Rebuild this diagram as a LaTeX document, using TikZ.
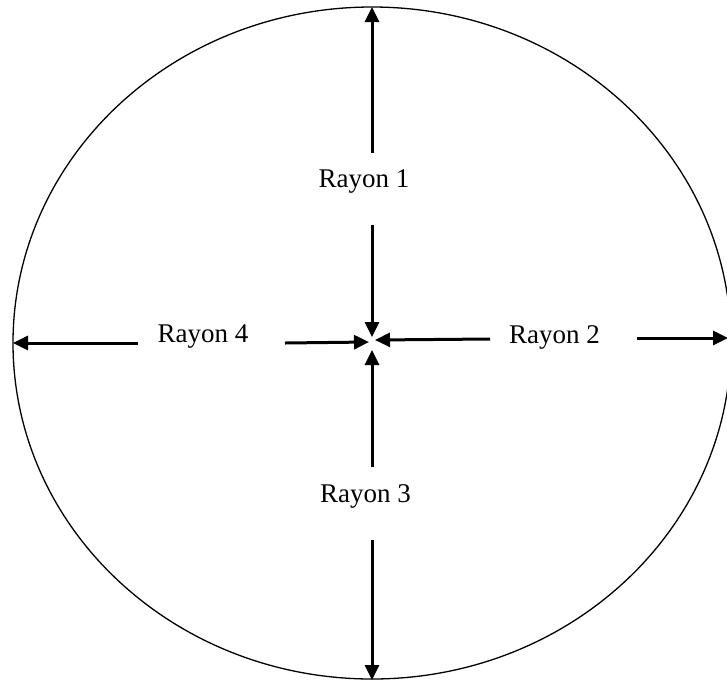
\documentclass[tikz,border=0pt]{standalone}
\usepackage{fontspec}
\setmainfont{Liberation Serif}
\usetikzlibrary{arrows.meta}
\begin{document}
\begin{tikzpicture}[x=1pt,y=-1pt,
  ray/.style={line width=3pt,-{Triangle[length=15pt,width=14pt]}},
  lbl/.style={inner sep=0pt,anchor=base,font=\fontsize{27}{30}\selectfont}]
\useasboundingbox (0,0) rectangle (727,681);
\draw[line width=1.3pt] (372,343) ellipse [x radius=359, y radius=336];
% labels
\node[lbl] (r1) at (364,187) {Rayon 1};
\node[lbl] (r2) at (554.5,343) {Rayon 2};
\node[lbl] (r3) at (365.5,502) {Rayon 3};
\node[lbl] (r4) at (203,342) {Rayon 4};
% line ends
\coordinate (t1a) at (372,153);
\coordinate (t1b) at (372,225);
\coordinate (top) at (372,7);
\coordinate (c1) at (372,337);
\coordinate (t2a) at (490,339);
\coordinate (t2b) at (637,338);
\coordinate (right) at (728,338);
\coordinate (c2) at (375,340);
\coordinate (t3a) at (372,467);
\coordinate (t3b) at (372,540);
\coordinate (bottom) at (372,680);
\coordinate (c3) at (372,350);
\coordinate (t4a) at (138,343);
\coordinate (t4b) at (285,343);
\coordinate (left) at (13,343);
\coordinate (c4) at (369,342);
% rays
\draw[ray] (t1a) -- (top);
\draw[ray] (t1b) -- (c1);
\draw[ray] (t2a) -- (c2);
\draw[ray] (t2b) -- (right);
\draw[ray] (t3a) -- (c3);
\draw[ray] (t3b) -- (bottom);
\draw[ray] (t4a) -- (left);
\draw[ray] (t4b) -- (c4);
\end{tikzpicture}
\end{document}
